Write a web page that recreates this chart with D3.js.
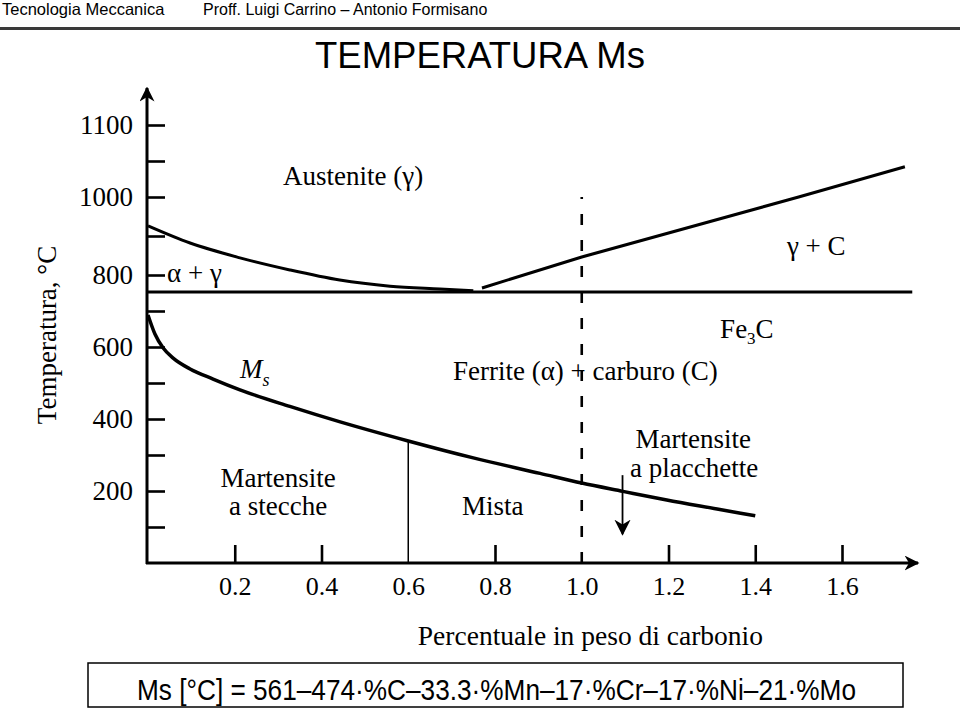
<!DOCTYPE html>
<html><head><meta charset="utf-8">
<script src="https://cdn.jsdelivr.net/npm/d3@7"></script>
<style>body{margin:0;background:#fff}svg{display:block}</style>
</head><body><svg id="c" width="960" height="710"></svg>
<script>
// ---- text ----
const headerLeft = "Tecnologia Meccanica";
const headerRight = "Proff. Luigi Carrino – Antonio Formisano";
const titleText = "TEMPERATURA Ms";
const formulaText = "Ms [°C] = 561–474·%C–33.3·%Mn–17·%Cr–17·%Ni–21·%Mo";
const yTitle = "Temperatura, °C";
const xTitle = "Percentuale in peso di carbonio";
// ---- ticks ----
const xTickLabels = [0.2, 0.4, 0.6, 0.8, 1.0, 1.2, 1.4, 1.6];
const xTickMarks = [0.2, 0.4, 0.8, 1.2, 1.4, 1.6];
const yTickMarks = [100, 200, 300, 400, 500, 600, 700, 800, 900, 1000, 1050, 1100];
const yTickLabels = [200, 400, 600, 800, 1000, 1100];
// ---- curves (wt% C, °C) ----
const msC = [0, 0.016, 0.035, 0.058, 0.097, 0.150, 0.212, 0.327, 0.443, 0.6, 0.75, 0.904, 1.0, 1.095, 1.196, 1.312, 1.4];
const msT = [689, 636, 597, 569, 539, 511, 481, 435, 392, 339, 292, 249, 222, 199, 175, 150, 131];
const a3C = [0, 0.097, 0.212, 0.327, 0.442, 0.558, 0.673, 0.75];
const a3T = [926, 882, 844, 813, 786, 769, 761, 756];
const acmC = [0.77, 1.0, 1.5, 1.745];
const acmT = [764, 846, 1000, 1042];
const eutectoidC = [0, 1.762];
const eutectoidT = [753, 753];
const dashC = [1.0, 1.0];
const dashT = [0, 1000];
const mistaC = [0.6, 0.6];
const mistaT = [0, 339];
const arrowC = [1.094, 1.094];
const arrowT = [244, 80];
// ---- labels (wt% C, °C) ----
const labelText = ["Austenite (γ)", "α + γ", "γ + C", "Ferrite (α) + carburo (C)", "Martensite", "a stecche", "Mista", "Martensite", "a placchette"];
const labelC = [0.473, 0.044, 1.473, 0.703, 0.30, 0.30, 0.795, 1.257, 1.259];
const labelT = [1017, 781, 851, 508, 211, 133, 133, 319, 239];
const labelAnchor = ["middle", "start", "start", "start", "middle", "middle", "middle", "middle", "middle"];

const svg = d3.select("#c");
const x = d3.scaleLinear().domain([0, 1.6]).range([148, 842]);
const y = d3.scaleLinear().domain([0, 800, 1000, 1100]).range([563, 275, 197, 125]);
const serif = "'Liberation Serif','Times New Roman',serif";
const sans = "'Liberation Sans',Arial,Helvetica,sans-serif";

// header
svg.append("text").attr("x", 2).attr("y", 15).attr("font-family", sans).attr("font-size", 16.5).text(headerLeft);
svg.append("text").attr("x", 203).attr("y", 15).attr("font-family", sans).attr("font-size", 16).text(headerRight);
svg.append("line").attr("x1", 0).attr("x2", 960).attr("y1", 28.5).attr("y2", 28.5).attr("stroke", "#3a3a3a").attr("stroke-width", 3);
svg.append("text").attr("x", 480).attr("y", 68).attr("text-anchor", "middle").attr("font-family", sans).attr("font-size", 36.5).text(titleText);

// arrow markers
const defs = svg.append("defs");
defs.append("marker").attr("id", "ah").attr("viewBox", "0 0 10 10").attr("refX", 9).attr("refY", 5)
  .attr("markerWidth", 5).attr("markerHeight", 5).attr("markerUnits", "strokeWidth").attr("orient", "auto")
  .append("path").attr("d", "M0,0 L10,5 L0,10 L3,5 Z").attr("fill", "#000");
defs.append("marker").attr("id", "ah2").attr("viewBox", "0 0 10 10").attr("refX", 9).attr("refY", 5)
  .attr("markerWidth", 9).attr("markerHeight", 9).attr("markerUnits", "strokeWidth").attr("orient", "auto")
  .append("path").attr("d", "M0,0 L10,5 L0,10 L3,5 Z").attr("fill", "#000");

// axes lines with arrows
svg.append("line").attr("x1", x(0) - 1).attr("x2", x(0) - 1).attr("y1", y(0) + 1).attr("y2", 88)
  .attr("stroke", "#000").attr("stroke-width", 3).attr("marker-end", "url(#ah)");
svg.append("line").attr("x1", x(0) - 2).attr("x2", 918).attr("y1", y(0)).attr("y2", y(0))
  .attr("stroke", "#000").attr("stroke-width", 3).attr("marker-end", "url(#ah)");

// y ticks (inward)
const yTicks = svg.append("g").attr("transform", `translate(${x(0) - 1},0)`)
  .call(d3.axisRight(y).tickValues(yTickMarks).tickSize(18).tickSizeOuter(0).tickFormat(""));
yTicks.select(".domain").remove();
yTicks.selectAll("line").attr("stroke-width", 2.6);
const yLab = svg.append("g").attr("transform", `translate(${x(0) - 1},0)`)
  .call(d3.axisLeft(y).tickValues(yTickLabels).tickSize(0).tickPadding(14).tickFormat(d3.format("d")));
yLab.select(".domain").remove();
yLab.selectAll("text").attr("font-family", serif).attr("font-size", 27).attr("fill", "#000");

// x ticks (upward)
const xTicks = svg.append("g").attr("transform", `translate(0,${y(0)})`)
  .call(d3.axisTop(x).tickValues(xTickMarks).tickSize(18).tickSizeOuter(0).tickFormat(""));
xTicks.select(".domain").remove();
xTicks.selectAll("line").attr("stroke-width", 2.6);
const xLab = svg.append("g").attr("transform", `translate(0,${y(0)})`)
  .call(d3.axisBottom(x).tickValues(xTickLabels).tickSize(0).tickPadding(14).tickFormat(d3.format(".1f")));
xLab.select(".domain").remove();
xLab.selectAll("text").attr("font-family", serif).attr("font-size", 26).attr("fill", "#000");

// axis titles
svg.append("text").attr("transform", "translate(56,335) rotate(-90)").attr("text-anchor", "middle")
  .attr("font-family", serif).attr("font-size", 27).text(yTitle);
svg.append("text").attr("x", x(1.02)).attr("y", 645).attr("text-anchor", "middle")
  .attr("font-family", serif).attr("font-size", 27.5).text(xTitle);

// curves
const smooth = d3.line().x(d => x(d[0])).y(d => y(d[1])).curve(d3.curveMonotoneX);
const straight = d3.line().x(d => x(d[0])).y(d => y(d[1]));
const zip = (a, b) => a.map((v, i) => [v, b[i]]);

svg.append("path").attr("d", straight(zip(eutectoidC, eutectoidT))).attr("fill", "none").attr("stroke", "#000").attr("stroke-width", 3);
svg.append("path").attr("d", smooth(zip(a3C, a3T))).attr("fill", "none").attr("stroke", "#000").attr("stroke-width", 3);
svg.append("path").attr("d", straight(zip(acmC, acmT))).attr("fill", "none").attr("stroke", "#000").attr("stroke-width", 3);
svg.append("path").attr("d", smooth(zip(msC, msT))).attr("fill", "none").attr("stroke", "#000").attr("stroke-width", 3.5);
svg.append("path").attr("d", straight(zip(dashC, dashT))).attr("fill", "none").attr("stroke", "#000").attr("stroke-width", 2.6).attr("stroke-dasharray", "11,15");
svg.append("path").attr("d", straight(zip(mistaC, mistaT))).attr("fill", "none").attr("stroke", "#000").attr("stroke-width", 1.5);
svg.append("path").attr("d", straight(zip(arrowC, arrowT))).attr("fill", "none").attr("stroke", "#000").attr("stroke-width", 1.8).attr("marker-end", "url(#ah2)");

// region labels
labelText.forEach((t, i) => {
  svg.append("text").attr("x", x(labelC[i])).attr("y", y(labelT[i])).attr("text-anchor", labelAnchor[i])
    .attr("font-family", serif).attr("font-size", 27).text(t);
});
// Fe3C
const fe = svg.append("text").attr("x", x(1.319)).attr("y", y(625)).attr("font-family", serif).attr("font-size", 27);
fe.append("tspan").text("Fe");
fe.append("tspan").attr("font-size", 17).attr("dy", 6).text("3");
fe.append("tspan").attr("dy", -6).text("C");
// Ms
const ms = svg.append("text").attr("x", x(0.212)).attr("y", y(514)).attr("font-family", serif).attr("font-size", 27).attr("font-style", "italic");
ms.append("tspan").text("M");
ms.append("tspan").attr("font-size", 18).attr("dy", 8).text("s");

// formula box
svg.append("rect").attr("x", 88).attr("y", 663).attr("width", 815).attr("height", 44).attr("fill", "none").attr("stroke", "#000").attr("stroke-width", 1.5);
svg.append("text").attr("x", 137).attr("y", 700).attr("font-family", sans).attr("font-size", 29)
  .attr("textLength", 719).attr("lengthAdjust", "spacingAndGlyphs").text(formulaText);
</script></body></html>
